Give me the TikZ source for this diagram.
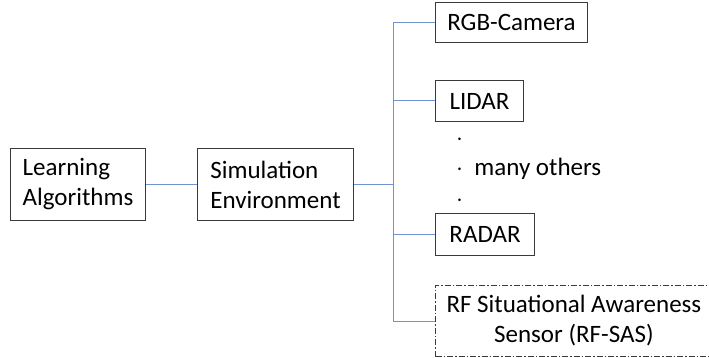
\documentclass[tikz,border=0pt]{standalone}
\usepackage{fontspec}
\setmainfont{Carlito}
\usepackage{xcolor}
\usepackage{tikz}
\usetikzlibrary{positioning}
\definecolor{linkblue}{HTML}{6F93D3}
\definecolor{boxgray}{HTML}{3A3A3A}

\begin{document}
\begin{tikzpicture}[x=1pt,y=1pt,
	box/.style={draw=boxgray,line width=1pt,anchor=north west,inner xsep=11pt,inner ysep=0pt,align=left,font=\fontsize{25}{30}\selectfont},
	link/.style={linkblue,line width=1pt}]
	\useasboundingbox (0,0) rectangle (709,-358);
	% left part
	\node[box,minimum width=135pt,minimum height=72pt] (learn) at (10,-148) {Learning\\Algorithms};
	\node[box,minimum width=156pt,minimum height=72pt] (sim) at (197,-148) {Simulation\\Environment};
	% sensors
	\node[box,minimum width=152pt,minimum height=40pt] (cam) at (435,-2) {RGB-Camera};
	\node[box,minimum width=88pt,minimum height=41pt] (lidar) at (435,-80) {LIDAR};
	\node[box,minimum width=99pt,minimum height=42pt] (radar) at (435,-213) {RADAR};
	\node[box,dash pattern=on 6pt off 2pt on 1.5pt off 2pt,align=center,minimum width=272pt,minimum height=71pt] (rfsas) at (435,-285) {RF Situational Awareness\\Sensor (RF-SAS)};
	\node[anchor=north west,inner sep=0pt,align=left,font=\fontsize{25}{30.5}\selectfont] (others) at (456,-134) {$\cdot$\\$\cdot$\ \ many others\\$\cdot$};
	% bus
	\coordinate (bustop) at (393,-22);
	\coordinate (busbot) at (393,-321);
	\draw[link] (bustop) -- (busbot);
	\draw[link] (learn.east) -- (sim.west);
	\draw[link] (sim.east) -- (sim.east -| bustop);
	\draw[link] (cam.west) -- (cam.west -| bustop);
	\draw[link] (lidar.west) -- (lidar.west -| bustop);
	\draw[link] (radar.west) -- (radar.west -| bustop);
	\draw[link] (rfsas.west) -- (rfsas.west -| bustop);
\end{tikzpicture}
\end{document}
